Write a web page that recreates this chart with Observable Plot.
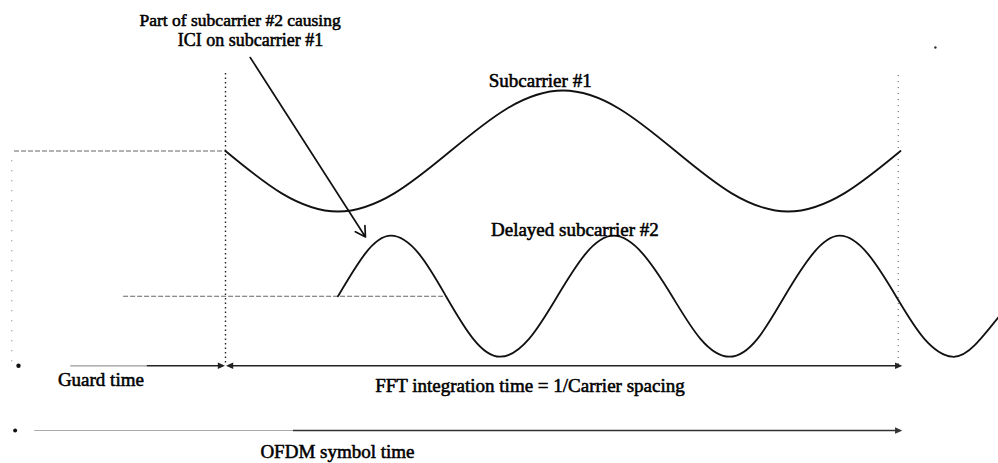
<!DOCTYPE html>
<html>
<head>
<meta charset="utf-8">
<script src="https://cdn.jsdelivr.net/npm/d3@7"></script>
<script src="https://cdn.jsdelivr.net/npm/@observablehq/plot@0.6"></script>
<style>
  html, body { margin: 0; padding: 0; background: #fff; }
  #chart svg { display: block; }
</style>
</head>
<body>
<div id="chart"></div>
<script>
// Time axis: 1 unit = quarter period of subcarrier #1; FFT window runs 0..6
const sub1Time = [0, 0.5, 1, 1.5, 2, 2.5, 3, 3.5, 4, 4.5, 5, 5.5, 6];
const sub1Value = [0, -0.7, -1, -0.7, 0, 0.7, 1, 0.7, 0, -0.7, -1, -0.7, 0];

const sub2Time = [1.0, 1.24, 1.47, 1.72, 1.96, 2.2, 2.44, 2.7, 2.95, 3.2, 3.45, 3.71, 3.97, 4.22, 4.48, 4.73, 4.97, 5.22, 5.46, 5.71, 5.96, 6.21, 6.46, 6.66, 6.87];
const sub2Value = [0, 0.7, 1, 0.7, 0, -0.7, -1, -0.7, 0, 0.7, 1, 0.7, 0, -0.7, -1, -0.7, 0, 0.7, 1, 0.7, 0, -0.7, -1, -0.81, -0.35];

const level1 = 0;      // baseline of subcarrier #1
const level2 = -2.4;   // baseline of delayed subcarrier #2
const guardLevel = -3.55;   // guard / FFT arrows
const symbolLevel = -4.62;  // OFDM symbol arrow

const guardStart = -1.88;
const symbolStart = 0;
const fftEnd = 5.98;
const delayedGuardStart = -0.91;
const delayedGuardEnd = 1.96;

const centeredLabels = [
  {text: "Part of subcarrier #2 causing", t: 0.13, v: 2.16, size: 17.5},
  {text: "ICI on subcarrier #1", t: 0.222, v: 1.83, size: 18}
];
const leftLabels = [
  {text: "Subcarrier #1", t: 2.34, v: 1.16, size: 19},
  {text: "Delayed subcarrier #2", t: 2.36, v: -1.30, size: 19},
  {text: "Guard time", t: -1.49, v: -3.78, size: 19},
  {text: "FFT integration time = 1/Carrier spacing", t: 1.33, v: -3.88, size: 19},
  {text: "OFDM symbol time", t: 0.31, v: -4.98, size: 19}
];

const sub1 = sub1Time.map((t, i) => ({t, v: level1 + sub1Value[i]}));
const sub2 = sub2Time.map((t, i) => ({t, v: level2 + sub2Value[i]}));

const guardLines = [
  {x1: guardStart, x2: symbolStart, y: level1},
  {x1: delayedGuardStart, x2: delayedGuardEnd, y: level2}
];

// filled triangular arrowhead marker
function filledHead(color) {
  const m = d3.create("svg:marker")
    .attr("viewBox", "-5 -5 10 10")
    .attr("markerWidth", 8)
    .attr("markerHeight", 8)
    .attr("markerUnits", "userSpaceOnUse")
    .attr("orient", "auto-start-reverse")
    .attr("fill", color)
    .attr("stroke", "none");
  m.append("path").attr("d", "M-4,-4L5,0L-4,4Z");
  return m.node();
}

const textStyle = {
  x: "t", y: "v", text: "text", fontSize: d => d.size,
  fontFamily: "Liberation Serif, Times New Roman, serif",
  fill: "#000", stroke: "#000", strokeWidth: 0.55, lineAnchor: "middle"
};

const chart = Plot.plot({
  width: 998,
  height: 463,
  margin: 0,
  x: {domain: [-2, 6.871], axis: null},
  y: {domain: [-5.165, 2.488], axis: null},
  style: {background: "#fff"},
  marks: [
    // faint dotted edge at left
    Plot.ruleX([-1.9], {y1: -0.16, y2: -3.5, stroke: "#888", strokeDasharray: "1,9", strokeWidth: 1.2}),
    // symbol boundaries
    Plot.ruleX([symbolStart], {y1: 1.28, y2: guardLevel, stroke: "#222", strokeDasharray: "1.5,3", strokeWidth: 1.4}),
    Plot.ruleX([fftEnd], {y1: 1.25, y2: guardLevel, stroke: "#777", strokeDasharray: "1,5", strokeWidth: 1.2}),
    // guard-interval baselines
    Plot.link(guardLines, {x1: "x1", x2: "x2", y1: "y", y2: "y", stroke: "#666", strokeDasharray: "5,2", strokeWidth: 1.1}),
    // subcarriers
    Plot.line(sub1, {x: "t", y: "v", curve: "natural", stroke: "#111", strokeWidth: 1.8}),
    Plot.line(sub2, {x: "t", y: "v", curve: "natural", stroke: "#111", strokeWidth: 1.8}),
    // guard-time arrow
    Plot.dot([{t: -1.84, v: guardLevel}], {x: "t", y: "v", r: 2.2, fill: "#111", stroke: null}),
    Plot.link([{x1: -1.38, x2: -0.7, y: guardLevel}], {x1: "x1", x2: "x2", y1: "y", y2: "y", stroke: "#999", strokeWidth: 1.2}),
    Plot.link([{x1: -0.7, x2: -0.04, y: guardLevel}], {x1: "x1", x2: "x2", y1: "y", y2: "y", stroke: "#222", strokeWidth: 1.5, markerEnd: filledHead}),
    // FFT window arrow
    Plot.link([{x1: 0.04, x2: fftEnd, y: guardLevel}], {x1: "x1", x2: "x2", y1: "y", y2: "y", stroke: "#222", strokeWidth: 1.5, markerStart: filledHead, markerEnd: filledHead}),
    // OFDM symbol arrow
    Plot.dot([{t: -1.87, v: symbolLevel}], {x: "t", y: "v", r: 2, fill: "#111", stroke: null}),
    Plot.link([{x1: -1.7, x2: 0.6, y: symbolLevel}], {x1: "x1", x2: "x2", y1: "y", y2: "y", stroke: "#aaa", strokeWidth: 1.1}),
    Plot.link([{x1: 0.6, x2: fftEnd, y: symbolLevel}], {x1: "x1", x2: "x2", y1: "y", y2: "y", stroke: "#333", strokeWidth: 1.4, markerEnd: filledHead}),
    // annotation arrow
    Plot.arrow([{x1: 0.22, y1: 1.545, x2: 1.244, y2: -1.42}], {x1: "x1", y1: "y1", x2: "x2", y2: "y2", stroke: "#111", strokeWidth: 1.7, headLength: 10}),
    // stray dot
    Plot.dot([{t: 6.31, v: 1.71}], {x: "t", y: "v", r: 1.2, fill: "#333", stroke: null}),
    // labels
    Plot.text(centeredLabels, {...textStyle, textAnchor: "middle"}),
    Plot.text(leftLabels, {...textStyle, textAnchor: "start"})
  ]
});

document.getElementById("chart").append(chart);
</script>
</body>
</html>
